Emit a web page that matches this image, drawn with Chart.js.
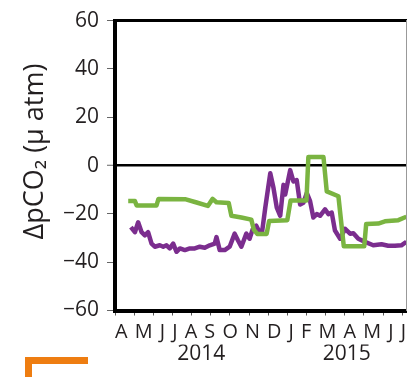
<!DOCTYPE html>
<html><head><meta charset="utf-8">
<script src="https://cdn.jsdelivr.net/npm/chart.js@4/dist/chart.umd.min.js"></script>
<style>
html,body{margin:0;padding:0;background:#fff;}
#wrap{position:relative;width:408px;height:377px;overflow:hidden;background:#fff;}
#c{position:absolute;left:0;top:0;}
#mark{position:absolute;left:25px;top:357px;width:56px;height:20px;border-top:7px solid #ee7d11;border-left:7px solid #ee7d11;}
</style></head><body>
<div id="wrap"><canvas id="c" width="408" height="377"></canvas><div id="mark"></div></div>
<script>
// x values are months since 1 April 2014
const monthLabels = ['A','M','J','J','A','S','O','N','D','J','F','M','A','M','J','J'];
const yearLabels = ['2014','2015'];
const yearStartMonths = [-3, 9];
const yTickValues = [-60,-40,-20,0,20,40,60];
const yTitle = 'ΔpCO₂ (μ atm)';

const greenMonths = [0.69,1.04,1.13,2.17,2.27,3.70,4.22,4.85,5.10,5.30,5.94,6.08,6.60,7.12,7.25,7.43,7.92,8.05,9.00,9.17,10.00,10.10,10.89,11.06,11.67,11.95,13.02,13.12,13.75,14.10,14.80,15.22];
const greenValues = [-14.7,-14.7,-16.5,-16.5,-13.8,-14.0,-15.2,-16.7,-13.8,-15.2,-15.5,-20.8,-21.5,-22.4,-26.5,-28.3,-28.3,-23.0,-22.6,-14.5,-14.5,3.5,3.5,-10.7,-12.7,-33.4,-33.4,-24.2,-24.0,-23.1,-22.6,-21.2];

const purpleMonths = [0.83,1.04,1.21,1.39,1.56,1.73,1.91,2.08,2.34,2.52,2.69,2.86,3.04,3.21,3.39,3.65,3.91,4.17,4.43,4.69,4.95,5.21,5.30,5.47,5.73,5.99,6.25,6.42,6.60,6.86,7.03,7.20,7.38,7.55,7.67,7.85,8.11,8.28,8.45,8.63,8.80,8.89,9.15,9.32,9.49,9.67,9.84,10.02,10.19,10.36,10.54,10.71,10.97,11.15,11.32,11.49,11.76,12.02,12.28,12.45,12.71,13.06,13.49,13.92,14.27,14.62,14.96,15.22];
const purpleValues = [-25.5,-27.6,-23.5,-27.6,-28.9,-27.6,-32.3,-33.6,-33.0,-33.6,-33.0,-34.3,-32.3,-35.7,-34.3,-35.0,-34.3,-34.3,-33.6,-34.0,-33.0,-32.3,-29.6,-35.0,-35.0,-33.6,-28.2,-30.9,-33.6,-28.2,-30.3,-26.2,-24.9,-27.6,-28.2,-17.4,-3.2,-9.3,-17.4,-20.8,-8.0,-12.0,-1.9,-6.6,-6.0,-16.1,-15.4,-11.4,-14.7,-21.5,-20.1,-20.8,-18.1,-20.1,-19.5,-26.9,-30.3,-26.2,-28.2,-28.0,-30.3,-31.6,-33.0,-32.6,-33.2,-33.2,-33.0,-31.6];

const X_MIN = 0, X_MAX = 15.2;
const TEXT = '#231f20';
const FONT = "'Open Sans', 'Noto Sans', sans-serif";

const toPts = (xs, ys) => xs.map((x, i) => ({x, y: ys[i]}));

new Chart(document.getElementById('c'), {
  type: 'line',
  data: {
    datasets: [
      {data: toPts(greenMonths, greenValues), borderColor: '#7ab441', borderWidth: 4.5, pointRadius: 0, tension: 0, borderJoinStyle: 'round', xAxisID: 'x', yAxisID: 'y'},
      {data: toPts(purpleMonths, purpleValues), borderColor: '#7b2d8e', borderWidth: 4.5, pointRadius: 0, tension: 0, borderJoinStyle: 'round', xAxisID: 'x', yAxisID: 'y'}
    ]
  },
  options: {
    responsive: false,
    animation: false,
    devicePixelRatio: 1,
    layout: {padding: 0},
    plugins: {legend: {display: false}, tooltip: {enabled: false}},
    scales: {
      x: {
        type: 'linear', position: 'bottom', min: X_MIN, max: X_MAX,
        ticks: {display: false, stepSize: 1, includeBounds: false, autoSkip: false},
        grid: {drawOnChartArea: false, drawTicks: true, tickLength: 5, color: '#555', lineWidth: 1},
        border: {display: true, color: '#000', width: 4},
        title: {display: true, text: monthLabels.join(' \u200A'), color: TEXT, font: {family: FONT, size: 20}, padding: {top: 0, bottom: 0}},
        afterFit: s => { s.height = 34; }
      },
      xYear: {
        type: 'linear', position: 'bottom', min: X_MIN, max: X_MAX,
        grid: {display: false, drawTicks: false},
        border: {display: false},
        ticks: {autoSkip: false, maxRotation: 0, padding: -3, color: TEXT, font: {family: FONT, size: 21},
          callback: (v, i) => yearLabels[i]},
        afterBuildTicks: s => {
          s.ticks = yearStartMonths.map((st, i) => {
            const a = Math.max(st, s.min);
            const b = Math.min(i + 1 < yearStartMonths.length ? yearStartMonths[i + 1] : st + 12, s.max);
            return {value: (a + b) / 2};
          });
        },
        afterFit: s => { s.height = 32.5; }
      },
      xTop: {
        type: 'linear', position: 'top', min: X_MIN, max: X_MAX,
        ticks: {display: false},
        grid: {drawOnChartArea: false, drawTicks: false},
        border: {display: true, color: '#000', width: 3},
        afterFit: s => { s.height = 15.5; }
      },
      y: {
        type: 'linear', position: 'left', min: -60, max: 60,
        afterBuildTicks: s => { s.ticks = yTickValues.map(v => ({value: v})); },
        ticks: {color: TEXT, font: {family: FONT, size: 21}, padding: 8,
          callback: v => String(v).replace('-', '\u2212')},
        grid: {
          drawOnChartArea: true, drawTicks: true, tickLength: 8,
          color: c => (c.tick && c.tick.value === 0) ? '#000' : 'rgba(0,0,0,0)',
          lineWidth: c => (c.tick && c.tick.value === 0) ? 2.5 : 1,
          tickColor: '#666', tickWidth: 1
        },
        border: {display: true, color: '#000', width: 4},
        title: {display: true, text: '    ' + yTitle, color: TEXT, font: {family: FONT, size: 27}, padding: {top: 19, bottom: 0}},
        afterFit: s => { s.width = 115; }
      },
      yRight: {
        type: 'linear', position: 'right', min: -60, max: 60,
        ticks: {display: false},
        grid: {drawOnChartArea: false, drawTicks: false},
        border: {display: true, color: '#999', width: 1},
        afterFit: s => { s.width = 2; }
      }
    }
  }
});
</script>
</body></html>
